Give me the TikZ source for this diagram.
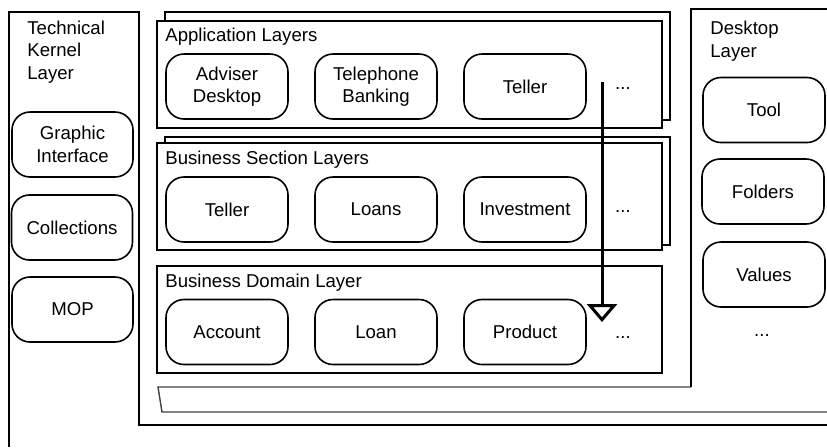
\documentclass[tikz,border=0pt]{standalone}
\usepackage{fontspec}
\setmainfont{Liberation Sans}
\usetikzlibrary{arrows.meta}

\begin{document}
\begin{tikzpicture}[x=0.5pt,y=-0.5pt]
	\tikzstyle{every node}+=[inner sep=0pt, font=\fontsize{9.3}{11.25}\selectfont]
	\tikzstyle{frame}=[draw=black, line width=1pt]
	\tikzstyle{thinframe}=[draw=black!75, line width=0.7pt]
	\tikzstyle{layer}=[draw=black, fill=white, line width=1pt]
	\tikzstyle{part}=[draw=black, fill=white, line width=0.8pt, rounded corners=9pt, minimum width=61pt, minimum height=32.5pt, align=center]
	\tikzstyle{title}=[anchor=west, align=left]
	\tikzstyle{flow}=[line width=1.5pt, -{Triangle[open, length=9pt, width=15pt]}]
	\useasboundingbox (0,0) rectangle (827,447);
	% outer frames
	\draw [frame] (9,447) -- (9,12) -- (139,12) -- (139,425) -- (827,425);
	\draw [thinframe] (827,412) -- (162,412) -- (158,387) -- (691,387);
	\draw [frame] (691,387) -- (691,9) -- (827,9);
	\node [title] (kerneltitle) at (27,52) {Technical\\Kernel\\Layer};
	\node [title] (desktoptitle) at (710,41) {Desktop\\Layer};
	% layer boxes
	\draw [layer] (165,12) rectangle (670,120);
	\draw [layer] (157,21) rectangle (662,128);
	\draw [layer] (165,137) rectangle (670,245);
	\draw [layer] (157,143) rectangle (662,250);
	\draw [layer] (157,266) rectangle (662,373);
	\node [title] (apptitle) at (165,37) {Application Layers};
	\node [title] (bstitle) at (165,160) {Business Section Layers};
	\node [title] (bdtitle) at (165,283) {Business Domain Layer};
	% application layers
	\node [part] (adviser) at (227,86.5) {Adviser\\Desktop};
	\node [part] (telephone) at (376,86.5) {Telephone\\Banking};
	\node [part] (tellerapp) at (525,86.5) {Teller};
	\node (moreapp) at (623,88) {...};
	% business section layers
	\node [part] (tellerbs) at (227,209.5) {Teller};
	\node [part] (loans) at (376,209.5) {Loans};
	\node [part] (invest) at (525,209.5) {Investment};
	\node (morebs) at (623,211) {...};
	% business domain layer
	\node [part] (account) at (227,332) {Account};
	\node [part] (loan) at (376,332) {Loan};
	\node [part] (product) at (525,332) {Product};
	\node (moredomain) at (623,337) {...};
	% technical kernel layer
	\node [part, minimum width=60.5pt] (graphic) at (72.5,144.5) {Graphic\\Interface};
	\node [part, minimum width=60.5pt] (collections) at (72,227.5) {Collections};
	\node [part, minimum width=60.5pt] (mop) at (72.5,309.5) {MOP};
	% desktop layer
	\node [part] (tool) at (764,110) {Tool};
	\node [part] (folders) at (763,191.5) {Folders};
	\node [part] (values) at (764,274.5) {Values};
	\node (moredesktop) at (762,335) {...};
	% dependency arrow
	\coordinate (flowtop) at (602,82);
	\coordinate (flowtip) at (602,322);
	\draw [flow] (flowtop) -- (flowtip);
\end{tikzpicture}
\end{document}
